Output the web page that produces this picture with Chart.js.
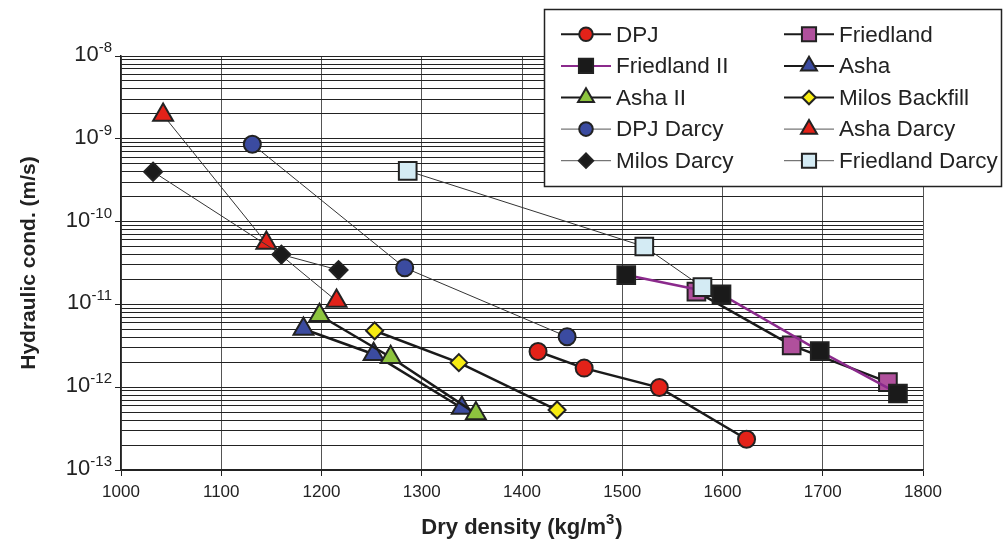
<!DOCTYPE html>
<html>
<head>
<meta charset="utf-8">
<title>Hydraulic conductivity vs dry density</title>
<script src="https://cdn.jsdelivr.net/npm/chart.js@4"></script>
<style>
  html, body { margin: 0; padding: 0; background: #fff; }
  #wrap { width: 1004px; height: 543px; }
</style>
</head>
<body>
<div id="wrap"><canvas id="chart" width="1004" height="543"></canvas></div>
<script>
// series names, in legend order
const seriesNames = ['DPJ', 'Friedland', 'Friedland II', 'Asha', 'Asha II', 'Milos Backfill',
  'DPJ Darcy', 'Asha Darcy', 'Milos Darcy', 'Friedland Darcy'];

// dry density (kg/m3) and hydraulic conductivity (m/s)
const dpjX = [1416, 1462, 1537, 1624];
const dpjY = [2.7e-12, 1.7e-12, 9.9e-13, 2.35e-13];
const friedlandX = [1574, 1669, 1765];
const friedlandY = [1.43e-11, 3.2e-12, 1.15e-12];
const friedland2X = [1504, 1599, 1697, 1775];
const friedland2Y = [2.26e-11, 1.32e-11, 2.73e-12, 8.4e-13];
const ashaX = [1182, 1252, 1340];
const ashaY = [5.05e-12, 2.5e-12, 5.6e-13];
const asha2X = [1198, 1269, 1354];
const asha2Y = [7.4e-12, 2.3e-12, 4.8e-13];
const milosX = [1253, 1337, 1435];
const milosY = [4.8e-12, 1.98e-12, 5.3e-13];
const dpjDarcyX = [1131, 1283, 1445];
const dpjDarcyY = [8.6e-10, 2.77e-11, 4.07e-12];
const ashaDarcyX = [1042, 1145, 1215];
const ashaDarcyY = [1.94e-9, 5.5e-11, 1.1e-11];
const milosDarcyX = [1032, 1160, 1217];
const milosDarcyY = [4.0e-10, 4.0e-11, 2.6e-11];
const friedlandDarcyX = [1286, 1522, 1580];
const friedlandDarcyY = [4.1e-10, 5.0e-11, 1.62e-11];

const xTicks = [1000, 1100, 1200, 1300, 1400, 1500, 1600, 1700, 1800];
const yDecades = [-13, -12, -11, -10, -9, -8];

const seriesX = [dpjX, friedlandX, friedland2X, ashaX, asha2X, milosX, dpjDarcyX, ashaDarcyX, milosDarcyX, friedlandDarcyX];
const seriesY = [dpjY, friedlandY, friedland2Y, ashaY, asha2Y, milosY, dpjDarcyY, ashaDarcyY, milosDarcyY, friedlandDarcyY];

const FONT = "'Liberation Sans', Arial, sans-serif";
const TXT = '#222';
const PURPLE_LINE = '#8b2a8c';

// look of each series
const looks = [
  { marker: 'circle', fill: '#e32219', line: '#1a1a1a', lw: 2.5, r: 8.5 },
  { marker: 'rect', fill: '#b0509c', line: '#1a1a1a', lw: 2.5, r: 12.5 },
  { marker: 'rect', fill: '#1a1a1a', line: PURPLE_LINE, lw: 2.5, r: 12.5 },
  { marker: 'triangle', fill: '#3b4ba0', line: '#1a1a1a', lw: 2.5, r: 11.5 },
  { marker: 'triangle', fill: '#8dc43e', line: '#1a1a1a', lw: 2.5, r: 11.5 },
  { marker: 'rectRot', fill: '#f7ec12', line: '#1a1a1a', lw: 2.5, r: 8.5 },
  { marker: 'circle', fill: '#3b4ba0', line: '#333', lw: 1, r: 8.5 },
  { marker: 'triangle', fill: '#e32219', line: '#333', lw: 1, r: 11.5 },
  { marker: 'rectRot', fill: '#1a1a1a', line: '#333', lw: 1, r: 9 },
  { marker: 'rect', fill: '#d4ebf4', line: '#333', lw: 1, r: 12.5 }
];

const datasets = seriesNames.map((name, i) => ({
  label: name,
  data: seriesX[i].map((x, j) => ({ x: x, y: seriesY[i][j] })),
  showLine: true,
  borderColor: looks[i].line,
  borderWidth: looks[i].lw,
  pointStyle: looks[i].marker,
  pointRadius: looks[i].r,
  pointBackgroundColor: looks[i].fill,
  pointBorderColor: '#222',
  pointBorderWidth: 2,
  order: seriesNames.length - i
}));

const decor = {
  id: 'decor',
  afterDraw(chart) {
    const ctx = chart.ctx;
    const ys = chart.scales.y;
    const area = chart.chartArea;
    ctx.save();
    ctx.fillStyle = TXT;

    // y tick labels 10^n
    yDecades.forEach(d => {
      const y = ys.getPixelForValue(Math.pow(10, d));
      ctx.font = '15px ' + FONT;
      ctx.textAlign = 'right';
      ctx.textBaseline = 'alphabetic';
      const sup = '-' + Math.abs(d);
      const supW = ctx.measureText(sup).width;
      ctx.fillText(sup, 112, y - 4);
      ctx.font = '22px ' + FONT;
      ctx.fillText('10', 112 - supW, y + 5);
    });

    // axis titles
    ctx.font = 'bold 21px ' + FONT;
    ctx.textBaseline = 'middle';
    ctx.textAlign = 'center';
    ctx.save();
    ctx.translate(29, (area.top + area.bottom) / 2);
    ctx.rotate(-Math.PI / 2);
    ctx.fillText('Hydraulic cond. (m/s)', 0, 0);
    ctx.restore();

    const part1 = 'Dry density (kg/m', part2 = '3', part3 = ')';
    ctx.font = 'bold 22px ' + FONT;
    const w1 = ctx.measureText(part1).width, w3 = ctx.measureText(part3).width;
    ctx.font = 'bold 15px ' + FONT;
    const w2 = ctx.measureText(part2).width + 1;
    let x0 = (area.left + area.right) / 2 - (w1 + w2 + w3) / 2;
    ctx.textAlign = 'left';
    ctx.font = 'bold 22px ' + FONT;
    ctx.fillText(part1, x0, 528);
    ctx.font = 'bold 15px ' + FONT;
    ctx.fillText(part2, x0 + w1, 520);
    ctx.font = 'bold 22px ' + FONT;
    ctx.fillText(part3, x0 + w1 + w2, 528);

    // legend box
    ctx.fillStyle = '#fff';
    ctx.fillRect(544.5, 9.5, 457, 177);
    ctx.strokeStyle = TXT;
    ctx.lineWidth = 1.5;
    ctx.strokeRect(544.5, 9.5, 457, 177);

    seriesNames.forEach((name, i) => {
      const row = Math.floor(i / 2), col = i % 2;
      const y = 34.3 + row * 31.6;
      const lx = col === 0 ? 561 : 784;
      const lk = looks[i];
      ctx.strokeStyle = lk.lw > 1 ? lk.line : '#555';
      ctx.lineWidth = lk.lw > 1 ? 2 : 1;
      ctx.beginPath();
      ctx.moveTo(lx, y);
      ctx.lineTo(lx + 50, y);
      ctx.stroke();
      ctx.fillStyle = lk.fill;
      ctx.strokeStyle = '#222';
      ctx.lineWidth = 2;
      Chart.helpers.drawPoint(ctx, { pointStyle: lk.marker, radius: lk.r * 0.8, borderWidth: 2, rotation: 0 }, lx + 25, y);
      ctx.fillStyle = TXT;
      ctx.font = '22.5px ' + FONT;
      ctx.textAlign = 'left';
      ctx.textBaseline = 'middle';
      ctx.fillText(name, lx + 55, y + 1);
    });
    ctx.restore();
  }
};

new Chart(document.getElementById('chart'), {
  type: 'scatter',
  data: { datasets: datasets },
  options: {
    responsive: false,
    animation: false,
    layout: { padding: { top: 56, right: 81, left: 0, bottom: 0 } },
    plugins: { legend: { display: false }, tooltip: { enabled: false } },
    scales: {
      x: {
        type: 'linear',
        min: xTicks[0],
        max: xTicks[xTicks.length - 1],
        afterBuildTicks: s => { s.ticks = xTicks.map(v => ({ value: v })); },
        ticks: { callback: v => String(v), font: { family: FONT, size: 17 }, color: TXT, padding: 6, maxRotation: 0, autoSkip: false },
        grid: { color: '#555', lineWidth: 1, tickLength: 6, tickColor: '#222' },
        border: { color: '#222', width: 1.5 },
        afterFit: s => { s.height = 73; }
      },
      y: {
        type: 'logarithmic',
        min: Math.pow(10, yDecades[0]),
        max: Math.pow(10, yDecades[yDecades.length - 1]),
        afterBuildTicks: s => {
          const t = [];
          yDecades.forEach((d, i) => {
            for (let k = 1; k <= 9; k++) {
              if (i === yDecades.length - 1 && k > 1) break;
              t.push({ value: k * Math.pow(10, d), major: k === 1 });
            }
          });
          s.ticks = t;
        },
        ticks: { callback: () => '', autoSkip: false },
        grid: {
          color: '#222', lineWidth: 1, tickLength: 6,
          tickColor: c => (c.tick && c.tick.major) ? '#222' : 'rgba(0,0,0,0)'
        },
        border: { color: '#222', width: 1.5 },
        afterFit: s => { s.width = 121; }
      }
    }
  },
  plugins: [decor]
});
</script>
</body>
</html>
